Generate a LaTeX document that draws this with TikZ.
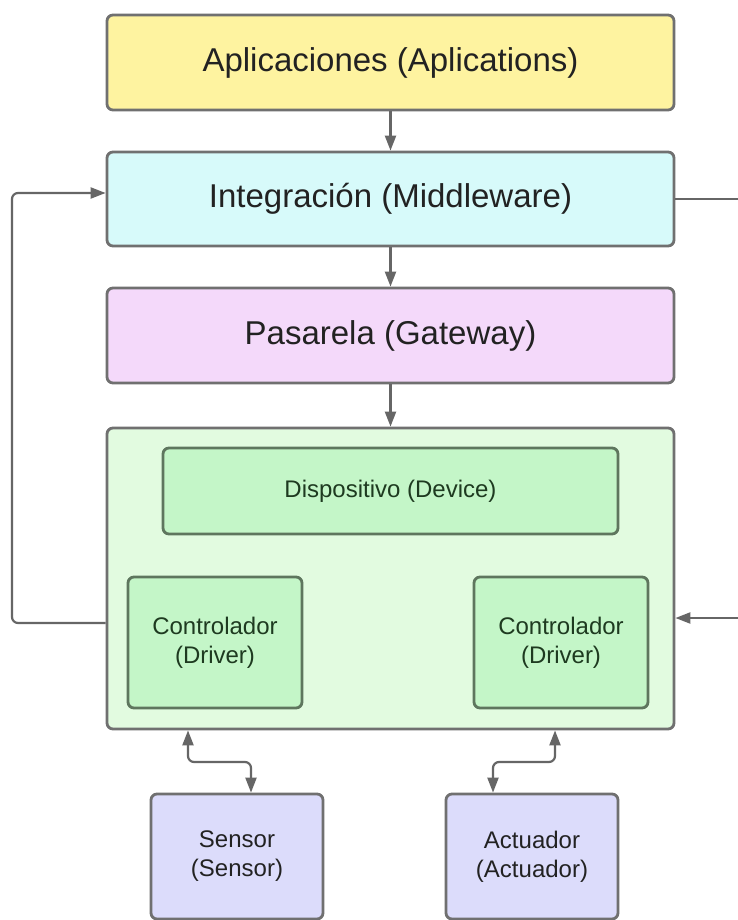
\documentclass[tikz,border=0pt]{standalone}
\usepackage{fontspec}
\setmainfont{Liberation Sans}
\usetikzlibrary{arrows.meta}
\definecolor{cyel}{HTML}{FEF3A0}
\definecolor{ccya}{HTML}{D7FAFA}
\definecolor{cpnk}{HTML}{F4D9FA}
\definecolor{cgrl}{HTML}{E2FBE0}
\definecolor{cgrd}{HTML}{C4F6C8}
\definecolor{clav}{HTML}{DCDCFB}
\definecolor{cbrd}{HTML}{707070}
\definecolor{cgbrd}{HTML}{5E765E}
\definecolor{cline}{HTML}{666666}
\definecolor{ctxt}{HTML}{222222}
\definecolor{cgtxt}{HTML}{1E3A20}
\tikzset{
  box/.style={draw=cbrd, line width=2.8pt, rounded corners=6pt, inner sep=0pt, text=ctxt, align=center},
  bigbox/.style={box, font=\fontsize{33}{38}\selectfont},
  smallbox/.style={box, font=\fontsize{24}{29}\selectfont},
  gbox/.style={smallbox, draw=cgbrd, fill=cgrd, text=cgtxt},
  arr/.style={draw=cline, line width=2.2pt, -{Triangle[length=15pt,width=11pt]}},
  darr/.style={draw=cline, line width=2.2pt, {Triangle[length=15pt,width=11pt]}-{Triangle[length=15pt,width=11pt]}, rounded corners=6pt},
  ln/.style={draw=cline, line width=2.2pt}
}
\begin{document}
\begin{tikzpicture}[x=1pt,y=1pt]
\useasboundingbox[fill=white] (0,0) rectangle (738,-920);
% top layers
\node[bigbox, fill=cyel, minimum width=567pt, minimum height=95pt] (apps) at (390.5,-62.5) {Aplicaciones (Aplications)};
\node[bigbox, fill=ccya, minimum width=567pt, minimum height=94pt] (integ) at (390.5,-199) {Integración (Middleware)};
\node[bigbox, fill=cpnk, minimum width=567pt, minimum height=95pt] (gw) at (390.5,-335.5) {Pasarela (Gateway)};
% device container
\node[box, fill=cgrl, minimum width=567pt, minimum height=301pt] (dev) at (390.5,-578.5) {};
\node[gbox, minimum width=455pt, minimum height=86pt] (device) at (390.5,-491) {Dispositivo (Device)};
\node[gbox, minimum width=174pt, minimum height=131pt] (ctrlL) at (215,-642.5) {Controlador\\(Driver)};
\node[gbox, minimum width=174pt, minimum height=131pt] (ctrlR) at (561,-642.5) {Controlador\\(Driver)};
% sensor and actuator
\node[smallbox, fill=clav, minimum width=172pt, minimum height=125pt] (sensor) at (237,-856.5) {Sensor\\(Sensor)};
\node[smallbox, fill=clav, minimum width=172pt, minimum height=125pt] (act) at (532,-856.5) {Actuador\\(Actuador)};
% vertical arrows
\draw[arr] (apps) -- (integ);
\draw[arr] (integ) -- (gw);
\draw[arr] (gw) -- (dev);
% left loop
\coordinate (lpTop) at (12,-193);
\coordinate (lpBot) at (12,-623);
\draw[arr, rounded corners=6pt] (dev.west |- lpBot) -- (lpBot) -- (lpTop) -- (integ.west |- lpTop);
% right side
\coordinate (rOut) at (738,-199);
\coordinate (rIn) at (738,-618);
\draw[ln] (integ.east |- rOut) -- (rOut);
\draw[arr] (rIn) -- (dev.east |- rIn);
% bottom connectors
\coordinate (sL) at (188,-762);
\coordinate (sR) at (251,-762);
\draw[darr] (dev.south -| sL) -- (sL) -- (sR) -- (sensor.north -| sR);
\coordinate (aR) at (555,-762);
\coordinate (aL) at (493,-762);
\draw[darr] (dev.south -| aR) -- (aR) -- (aL) -- (act.north -| aL);
\end{tikzpicture}
\end{document}
